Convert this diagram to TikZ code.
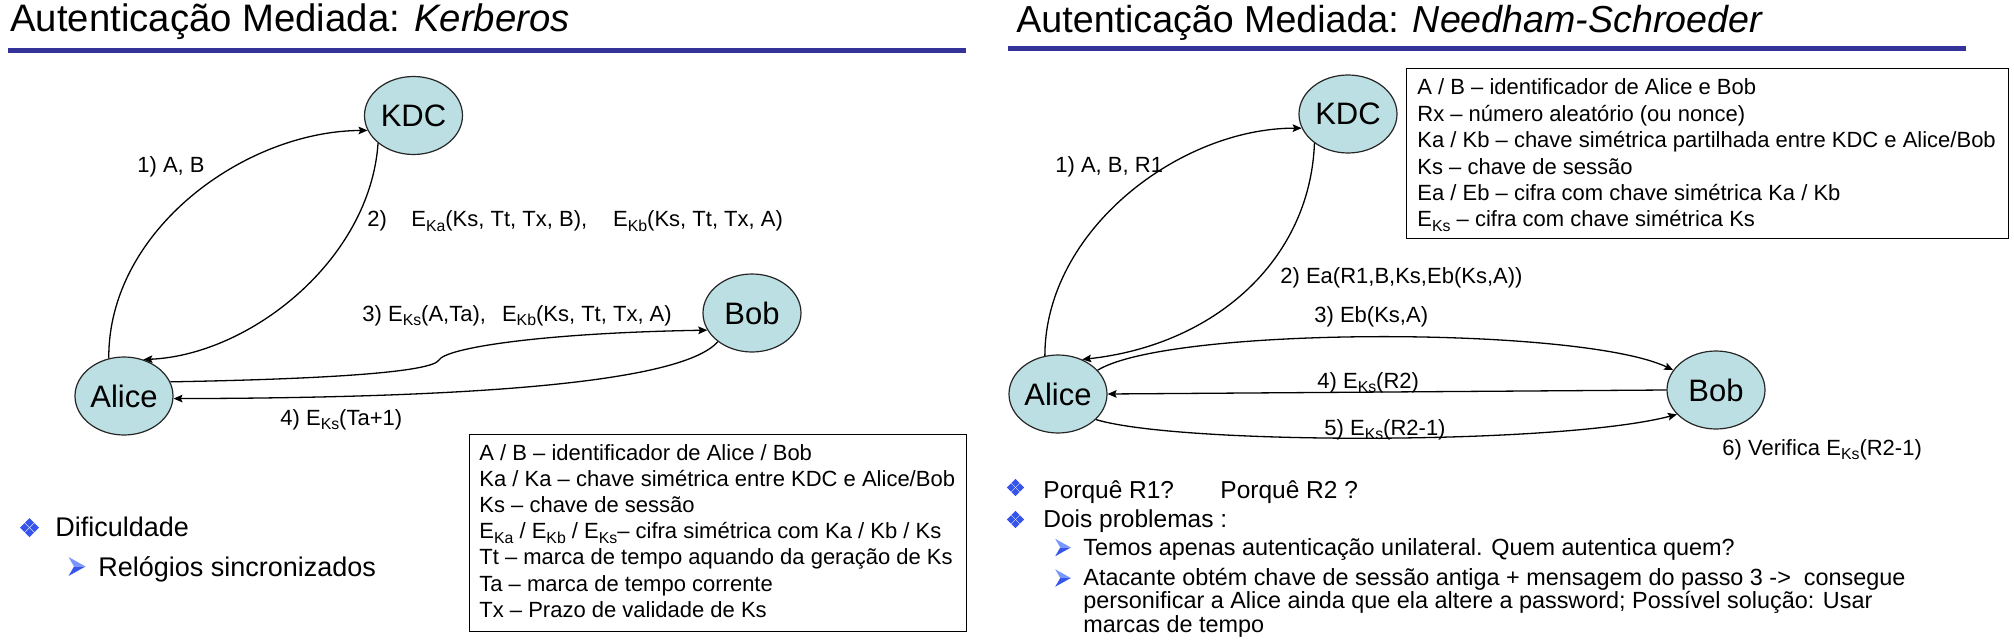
\documentclass[tikz,border=0pt]{standalone}
\usepackage{fontspec}
\setmainfont{Liberation Sans}
\usepackage{graphicx}
\usetikzlibrary{shapes.geometric,arrows.meta}
\definecolor{nodefill}{RGB}{187,223,227}
\definecolor{titleline}{RGB}{51,51,153}
\definecolor{bulletblue}{RGB}{55,85,235}
\definecolor{bulletlight}{RGB}{120,150,255}
\newcommand\lsub[1]{\raisebox{-0.22em}{\scalebox{0.72}{#1}}}
\newcommand\Ek[1]{E\lsub{#1}}
\begin{document}
\begin{tikzpicture}[x=0.5pt,y=-0.5pt,
  party/.style={ellipse,draw=black!85,line width=0.6pt,fill=nodefill,minimum width=49pt,minimum height=39pt,inner sep=0pt,font=\fontsize{15.5}{18}\selectfont},
  msg/.style={-{Stealth[length=4.5pt,width=3.8pt,inset=0.8pt]},line width=0.65pt},
  lbl/.style={anchor=base west,inner sep=0pt,font=\fontsize{11}{13}\selectfont},
  titletext/.style={anchor=base west,inner sep=0pt},
  rule/.style={titleline,line width=2.5pt},
  legendbox/.style={draw,line width=0.65pt,anchor=north west,inner sep=0pt},
  bigbullet/.style={anchor=base west,inner sep=0pt,font=\fontsize{13.5}{16}\selectfont},
  bulletone/.style={anchor=base west,inner sep=0pt,font=\fontsize{12.25}{14}\selectfont},
  bullettwo/.style={anchor=base west,inner sep=0pt,font=\fontsize{11.7}{14}\selectfont},
  diam/.pic={
    \fill[bulletblue] (0,-9.5) -- (4.5,-5) -- (0,-0.5) -- (-4.5,-5) -- cycle;
    \fill[bulletblue] (0,0.5) -- (4.5,5) -- (0,9.5) -- (-4.5,5) -- cycle;
    \fill[bulletblue] (-5,-4.5) -- (-0.5,0) -- (-5,4.5) -- (-9.5,0) -- cycle;
    \fill[bulletblue] (5,-4.5) -- (9.5,0) -- (5,4.5) -- (0.5,0) -- cycle;
  },
  arrowbul/.pic={
    \fill[bulletlight] (-8.5,-9.5) -- (8.5,0) -- (-3,0) -- cycle;
    \fill[bulletblue] (-3,0) -- (8.5,0) -- (-8.5,9.5) -- cycle;
  }
]
\useasboundingbox (0,0) rectangle (2014,642);

% ================= LEFT: Kerberos =================
\node[titletext,font=\fontsize{19.15}{23}\selectfont] (titleL) at (10,32) {Autenticação Mediada: \textit{Kerberos}};
\coordinate (ruleLa) at (8,50.5);
\coordinate (ruleLb) at (966,50.5);
\draw[rule] (ruleLa) -- (ruleLb);

\node[party] (kdcL) at (413.5,115.5) {KDC};
\node[party] (bobL) at (752,313) {Bob};
\node[party] (aliceL) at (124,396) {Alice};

\draw[msg] (aliceL.112) .. controls (108,230) and (245,131) .. (kdcL.198);
\draw[msg] (kdcL.218) .. controls (370,260) and (250,355) .. (aliceL.62);
\coordinate (k3L) at (439,360);
\draw[msg] (aliceL.17) .. controls (330,379) and (432,372) .. (k3L) .. controls (446,348) and (540,333) .. (bobL.201);
\draw[msg] (bobL.220) .. controls (680,385) and (450,398) .. (aliceL.-3);

\node[lbl] (m1L) at (137,172) {1) A, B};
\node[lbl] (m2L) at (367,227) {2)\hspace{12.2pt}\Ek{Ka}(Ks, Tt, Tx, B),\hspace{13pt}\Ek{Kb}(Ks, Tt, Tx, A)};
\node[lbl] (m3L) at (362,321) {3) \Ek{Ks}(A,Ta),\hspace{8pt}\Ek{Kb}(Ks, Tt, Tx, A)};
\node[lbl] (m4L) at (280,425) {4) \Ek{Ks}(Ta+1)};

\node[legendbox,minimum width=248.5pt,minimum height=98.5pt] (legL) at (469,434) {};
\node[lbl] (legL1) at (479,460) {A / B – identificador de Alice / Bob};
\node[lbl] (legL2) at (479,486.2) {Ka / Ka – chave simétrica entre KDC e Alice/Bob};
\node[lbl] (legL3) at (479,512.4) {Ks – chave de sessão};
\node[lbl] (legL4) at (479,538.6) {\Ek{Ka} / \Ek{Kb} / \Ek{Ks}– cifra simétrica com Ka / Kb / Ks};
\node[lbl] (legL5) at (479,564.8) {Tt – marca de tempo aquando da geração de Ks};
\node[lbl] (legL6) at (479,591) {Ta – marca de tempo corrente};
\node[lbl] (legL7) at (479,617.2) {Tx – Prazo de validade de Ks};

\pic at (29.5,527.5) {diam};
\node[bigbullet] (bL1) at (55,536) {Dificuldade};
\pic at (77,566.5) {arrowbul};
\node[bigbullet] (bL2) at (98,576) {Relógios sincronizados};

% ================= RIGHT: Needham-Schroeder =================
\node[titletext,font=\fontsize{18.8}{23}\selectfont] (titleR) at (1016,33) {Autenticação Mediada: \textit{Needham-Schroeder}};
\coordinate (ruleRa) at (1008,48.5);
\coordinate (ruleRb) at (1966,48.5);
\draw[rule] (ruleRa) -- (ruleRb);

\node[party] (kdcR) at (1348,114) {KDC};
\node[party] (aliceR) at (1058,394) {Alice};
\node[party] (bobR) at (1716,390) {Bob};

\node[legendbox,minimum width=301pt,minimum height=85pt] (legR) at (1406,68) {};
\node[lbl] (legR1) at (1417,95) {A / B – identificador de Alice e Bob};
\node[lbl] (legR2) at (1417,121.4) {Rx – número aleatório (ou nonce)};
\node[lbl] (legR3) at (1417,147.8) {Ka / Kb – chave simétrica partilhada entre KDC e Alice/Bob};
\node[lbl] (legR4) at (1417,174.2) {Ks – chave de sessão};
\node[lbl] (legR5) at (1417,200.6) {Ea / Eb – cifra com chave simétrica Ka / Kb};
\node[lbl] (legR6) at (1417,227) {\Ek{Ks} – cifra com chave simétrica Ks};

\draw[msg] (aliceR.109) .. controls (1045,230) and (1180,128) .. (kdcR.197);
\draw[msg] (kdcR.221) .. controls (1310,260) and (1215,345) .. (aliceR.55);
\draw[msg] (aliceR.31) .. controls (1170,326) and (1580,326) .. (bobR.155);
\draw[msg] (bobR.west) -- (aliceR.east);
\draw[msg] (aliceR.-34) .. controls (1180,445) and (1560,445) .. (bobR.212);

\node[lbl] (m1R) at (1055,173) {1) A, B, R1};
\node[lbl] (m2R) at (1280,283) {2) Ea(R1,B,Ks,Eb(Ks,A))};
\node[lbl] (m3R) at (1314,322) {3) Eb(Ks,A)};
\node[lbl] (m4R) at (1317,388) {4) \Ek{Ks}(R2)};
\node[lbl] (m5R) at (1324,435) {5) \Ek{Ks}(R2-1)};
\node[lbl] (m6R) at (1722,455) {6) Verifica \Ek{Ks}(R2-1)};

\pic[scale=0.9] at (1015.5,487.5) {diam};
\node[bulletone] (bR1) at (1043,498) {Porquê R1?};
\node[bulletone] (bR1b) at (1220,498) {Porquê R2 ?};
\pic[scale=0.9] at (1015.5,519.5) {diam};
\node[bulletone] (bR2) at (1043,527) {Dois problemas :};
\pic[scale=0.92] at (1063,547.5) {arrowbul};
\node[bullettwo] (bR3) at (1083,555) {Temos apenas autenticação unilateral. Quem autentica quem?};
\pic[scale=0.92] at (1063,578) {arrowbul};
\node[bullettwo] (bR4) at (1083,585) {Atacante obtém chave de sessão antiga + mensagem do passo 3 ->\ \ consegue};
\node[bullettwo] (bR4b) at (1083,608) {personificar a Alice ainda que ela altere a password; Possível solução: Usar};
\node[bullettwo] (bR4c) at (1083,632) {marcas de tempo};
\end{tikzpicture}
\end{document}
